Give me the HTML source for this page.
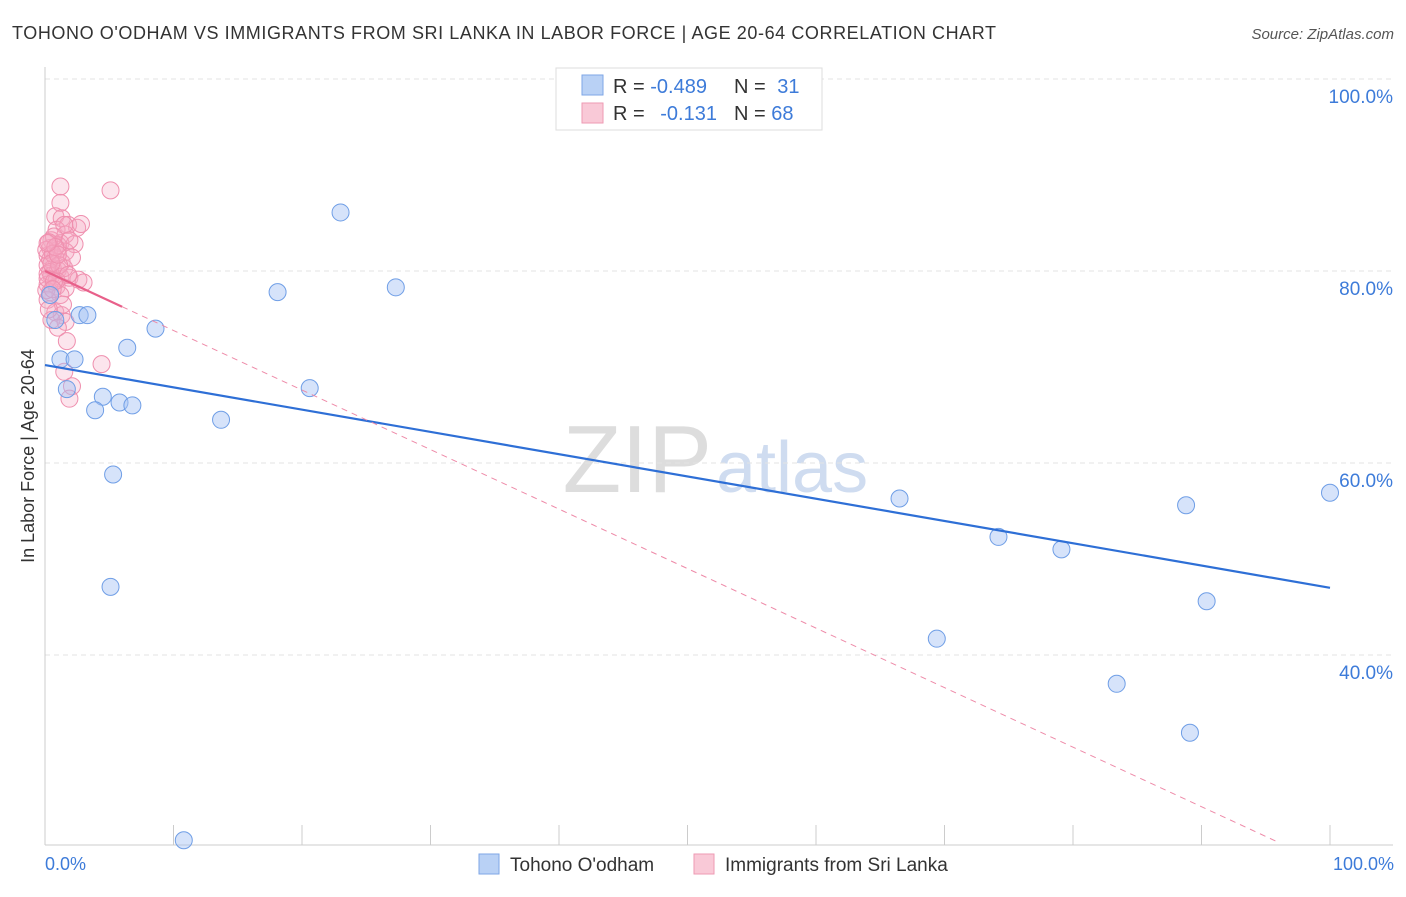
<!DOCTYPE html>
<html><head><meta charset="utf-8"><style>
body{margin:0;background:#fff;font-family:"Liberation Sans",sans-serif;}
svg text{font-family:"Liberation Sans",sans-serif;}
</style></head><body>
<svg id="c" width="1406" height="892">
<text x="12" y="39" font-size="18" fill="#333" textLength="984" lengthAdjust="spacing">TOHONO O'ODHAM VS IMMIGRANTS FROM SRI LANKA IN LABOR FORCE | AGE 20-64 CORRELATION CHART</text>
<text x="1394" y="39" font-size="15" fill="#555" font-style="italic" text-anchor="end">Source: ZipAtlas.com</text>
<text x="712" y="492" font-size="96" fill="#ddd" text-anchor="end" font-family="Liberation Serif">ZIP</text>
<text x="716" y="492" font-size="72" fill="#cfdcf0">atlas</text>
<g id="grid"></g>
<g id="pts"></g>
<text transform="translate(34,456) rotate(-90)" font-size="18" fill="#333" text-anchor="middle">In Labor Force | Age 20-64</text>
<text x="45" y="870" font-size="18" fill="#3d7bd9">0.0%</text>
<text x="1394" y="870" font-size="18" fill="#3d7bd9" text-anchor="end">100.0%</text>
<g>
<rect x="556" y="68" width="266" height="62" fill="#fff" stroke="#ddd"/>
<rect x="582" y="75" width="21" height="20" fill="#b9d1f5" stroke="#7ea6e6"/>
<rect x="582" y="103" width="21" height="20" fill="#f9c9d7" stroke="#ee9ab3"/>
<text x="613" y="93" font-size="20" fill="#333">R = <tspan fill="#3d7bd9">-0.489</tspan></text>
<text x="734" y="93" font-size="20" fill="#333">N = <tspan fill="#3d7bd9" dx="6">31</tspan></text>
<text x="613" y="120" font-size="20" fill="#333">R = <tspan fill="#3d7bd9" dx="10">-0.131</tspan></text>
<text x="734" y="120" font-size="20" fill="#333">N = <tspan fill="#3d7bd9">68</tspan></text>
</g>
<g>
<rect x="479" y="854" width="20" height="20" fill="#b9d1f5" stroke="#7ea6e6"/>
<text x="510" y="871" font-size="19" fill="#333">Tohono O'odham</text>
<rect x="694" y="854" width="20" height="20" fill="#f9c9d7" stroke="#ee9ab3"/>
<text x="725" y="871" font-size="19" fill="#333">Immigrants from Sri Lanka</text>
</g>
</svg>
<script>
const yTicks=[100,80,60,40];
const yTickLabels=["100.0%","80.0%","60.0%","40.0%"];
const blueX=[47.6,23.0,18.1,27.3,0.8,2.7,3.3,8.6,6.4,1.2,2.3,1.7,20.6,4.5,5.8,6.8,3.9,13.7,5.3,5.1,10.8,66.5,74.2,79.1,88.8,100,69.4,90.4,83.4,89.1,0.4];
const blueY=[100,86.1,77.8,78.3,74.9,75.4,75.4,74.0,72.0,70.8,70.8,67.7,67.8,66.9,66.3,66.0,65.5,64.5,58.8,47.1,20.7,56.3,52.3,51.0,55.6,56.9,41.7,45.6,37.0,31.9,77.5];
const pinkX=[1.2,5.1,1.2,0.8,1.3,1.8,2.5,0.9,1.6,0.5,1.2,2.3,0.4,1.0,1.6,0.2,0.8,1.3,0.2,0.6,1.0,0.2,0.5,1.2,1.9,2.6,3.0,0.2,0.9,1.6,0.4,1.2,0.2,0.8,1.3,0.5,1.6,1.0,1.7,4.4,1.5,2.1,1.9,0.4,1.0,1.5,0.7,1.9,0.1,0.4,0.1,1.5,0.9,2.1,0.3,0.6,1.1,0.2,0.7,1.4,0.3,0.8,2.8,0.5,1.0,0.2,1.8,0.6];
const pinkY=[88.8,88.4,87.1,85.7,85.5,84.8,84.5,84.3,83.8,83.2,82.9,82.8,82.4,82.2,82.0,81.6,81.4,80.9,80.6,80.3,80.1,79.7,79.5,79.4,79.3,79.1,78.8,78.6,78.4,78.2,77.8,77.5,77.0,75.7,75.4,74.9,74.7,74.1,72.7,70.3,69.5,68.0,66.7,81.2,82.7,84.8,83.6,83.2,82.2,79.9,78.0,80.3,79.0,81.4,83.0,81.8,80.6,79.2,78.9,76.5,76.0,82.5,84.9,80.8,81.7,82.9,79.6,78.1];
const blueTrend=[70.2,47.0];
const pinkTrend=[80.0,-0.62];
const NS='http://www.w3.org/2000/svg';
const xs=v=>45+v*12.85;
const ys=v=>79+(100-v)*9.6;
function mk(t,a,p){const e=document.createElementNS(NS,t);for(const k in a)e.setAttribute(k,a[k]);p.appendChild(e);return e;}
const g=document.getElementById('grid');
yTicks.forEach((t,i)=>{
 const l=mk('line',{x1:45,x2:1393,y1:ys(t),y2:ys(t),stroke:'#e3e3e3','stroke-dasharray':'5,4'},g);
 
 
 const tx=mk('text',{x:1393,y:ys(t)+24,'font-size':19,fill:'#3d7bd9','text-anchor':'end'},g);
 tx.textContent=yTickLabels[i];
 
 
});
const ax=mk('line',{x1:45,x2:45,y1:67,y2:845,stroke:'#ccc'},g);


const bx=mk('line',{x1:45,x2:1393,y1:845,y2:845,stroke:'#ccc'},g);


for(let i=0;i<=10;i++){const t=mk('line',{x1:xs(i*10),x2:xs(i*10),y1:825,y2:845,stroke:'#ccc'},g);
 
 }
const p=document.getElementById('pts');
pinkX.forEach((x,i)=>{const c=mk('circle',{cx:xs(x),cy:ys(pinkY[i]),r:8.5,fill:'rgba(246,170,195,0.3)',stroke:'#ef8fae','stroke-width':1},p);
 
 });
blueX.forEach((x,i)=>{const c=mk('circle',{cx:xs(x),cy:ys(blueY[i]),r:8.5,fill:'rgba(164,194,244,0.45)',stroke:'#6f9ee6','stroke-width':1},p);
 
 });
const bt=mk('line',{x1:xs(0),y1:ys(blueTrend[0]),x2:xs(100),y2:ys(blueTrend[1]),stroke:'#2e6fd6','stroke-width':2.2},p);


const pe=96.1;
const pd=mk('line',{x1:xs(6),y1:ys(pinkTrend[0]+pinkTrend[1]*6),x2:xs(pe),y2:ys(pinkTrend[0]+pinkTrend[1]*pe),stroke:'#ee8aa8','stroke-width':1,'stroke-dasharray':'6,5'},p);


const ps=mk('line',{x1:xs(0),y1:ys(pinkTrend[0]),x2:xs(6),y2:ys(pinkTrend[0]+pinkTrend[1]*6),stroke:'#e8608a','stroke-width':2.2},p);


</script>
</body></html>
